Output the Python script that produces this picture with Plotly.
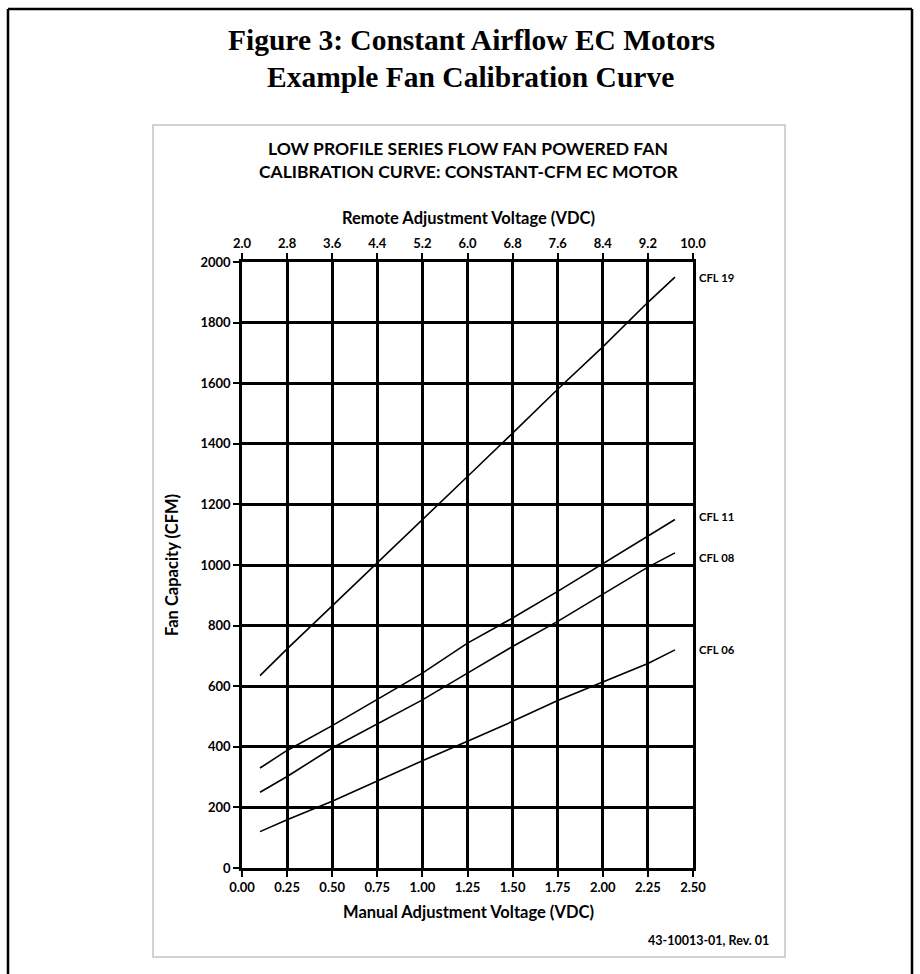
import plotly.graph_objects as go

# ---------------- data ----------------
manual_v = [0.1, 0.25, 0.5, 0.75, 1.0, 1.25, 1.5, 1.75, 2.0, 2.25, 2.4]
cfl19 = [635, 723, 865, 1007, 1147, 1292, 1435, 1580, 1720, 1867, 1950]
cfl11 = [330, 388, 470, 556, 643, 742, 825, 913, 1004, 1097, 1150]
cfl08 = [250, 302, 396, 475, 555, 643, 731, 814, 904, 993, 1040]
cfl06 = [120, 159, 220, 287, 354, 418, 484, 553, 615, 675, 720]
series_names = ["CFL 19", "CFL 11", "CFL 08", "CFL 06"]
series_vals = [cfl19, cfl11, cfl08, cfl06]

bottom_ticks = [0.0, 0.25, 0.5, 0.75, 1.0, 1.25, 1.5, 1.75, 2.0, 2.25, 2.5]
top_ticks = [2.0, 2.8, 3.6, 4.4, 5.2, 6.0, 6.8, 7.6, 8.4, 9.2, 10.0]
y_ticks = [0, 200, 400, 600, 800, 1000, 1200, 1400, 1600, 1800, 2000]

# ---------------- layout geometry ----------------
W, H = 920, 974
L, R, T, B = 242, 693, 262, 868
label_yshift = [0, 3, -5, 0]


def px(x):
    return (x - L) / (R - L)


def py(y):
    return (B - y) / (B - T)


SANS = "Lato"
fig = go.Figure()

for name, vals, ys in zip(series_names, series_vals, label_yshift):
    fig.add_trace(go.Scatter(x=manual_v, y=vals, mode="lines", name=name,
                             line=dict(color="black", width=1.6),
                             hoverinfo="x+y+name", showlegend=False))
    fig.add_annotation(x=manual_v[-1], y=vals[-1], xref="x", yref="y",
                       text="<b>" + name + "</b>", showarrow=False,
                       xanchor="left", yanchor="middle", xshift=22, yshift=ys,
                       font=dict(family=SANS, size=11.3, color="black"))

# invisible trace to carry the top axis
fig.add_trace(go.Scatter(x=[top_ticks[0], top_ticks[-1]], y=[0, 0], xaxis="x2",
                         mode="markers", marker=dict(opacity=0), hoverinfo="skip",
                         showlegend=False))

tickfont = dict(family=SANS, size=13, color="black", weight="bold")
axis_common = dict(showline=True, linecolor="black", linewidth=2.5,
                   showgrid=True, gridcolor="black", gridwidth=2.5,
                   ticks="outside", ticklen=6, tickwidth=2, tickcolor="black",
                   zeroline=False, tickfont=tickfont)

fig.update_layout(
    width=W, height=H,
    margin=dict(l=L, r=W - R, t=T, b=H - B, pad=0),
    paper_bgcolor="white", plot_bgcolor="white",
    xaxis=dict(range=[0, 2.5], tickvals=bottom_ticks,
               ticktext=[f"{v:.2f}" for v in bottom_ticks],
               mirror=False, **axis_common),
    xaxis2=dict(range=[2.0, 10.0], overlaying="x", side="top", anchor="y",
                tickvals=top_ticks, ticktext=[f"{v:.1f}" for v in top_ticks],
                showline=True, linecolor="black", linewidth=2.5, showgrid=False,
                ticks="outside", ticklen=6, tickwidth=2, tickcolor="black",
                zeroline=False, tickfont=tickfont),
    yaxis=dict(range=[0, 2000], tickvals=y_ticks,
               ticktext=[str(v) for v in y_ticks], mirror=True, **axis_common),
)

shapes = []
# outer black frame (top, left, right)
shapes.append(dict(type="line", xref="paper", yref="paper",
                   x0=px(8), x1=px(912), y0=py(9), y1=py(980),
                   line=dict(color="black", width=2.5)) if False else
              dict(type="line", xref="paper", yref="paper",
                   x0=px(8), x1=px(912), y0=py(9), y1=py(9),
                   line=dict(color="black", width=2.5)))
shapes.append(dict(type="line", xref="paper", yref="paper",
                   x0=px(8), x1=px(8), y0=py(9), y1=py(980),
                   line=dict(color="black", width=2.5)))
shapes.append(dict(type="line", xref="paper", yref="paper",
                   x0=px(912), x1=px(912), y0=py(9), y1=py(980),
                   line=dict(color="black", width=2.5)))
# gray chart box
shapes.append(dict(type="rect", xref="paper", yref="paper",
                   x0=px(153), x1=px(785), y0=py(957), y1=py(125),
                   line=dict(color="#c4c4c4", width=1.5), layer="below"))
fig.update_layout(shapes=shapes)


def ann(x, y, text, size, family=SANS, bold=True, angle=0, xanchor="center"):
    fig.add_annotation(x=px(x), y=py(y), xref="paper", yref="paper",
                       text=text, showarrow=False, textangle=angle,
                       xanchor=xanchor, yanchor="middle",
                       font=dict(family=family, size=size, color="black",
                                 weight="bold" if bold else "normal"))


SERIF = "Liberation Serif"
ann(471, 40, "Figure 3: Constant Airflow EC Motors", 29.5, family=SERIF)
ann(470, 77, "Example Fan Calibration Curve", 29.5, family=SERIF)
ann(468, 148, "LOW PROFILE SERIES FLOW FAN POWERED FAN", 17.5)
ann(468, 171, "CALIBRATION CURVE: CONSTANT-CFM EC MOTOR", 17.5)
ann(468, 218, "Remote Adjustment Voltage (VDC)", 16.5)
ann(468, 912, "Manual Adjustment Voltage (VDC)", 16.5)
ann(172, 565, "Fan Capacity (CFM)", 16.5, angle=-90)
ann(771, 940, "43-10013-01, Rev. 01", 12.5, xanchor="right")

fig.write_html("out.html", config={"displayModeBar": False},
               post_script="document.body.style.margin='0px';")
